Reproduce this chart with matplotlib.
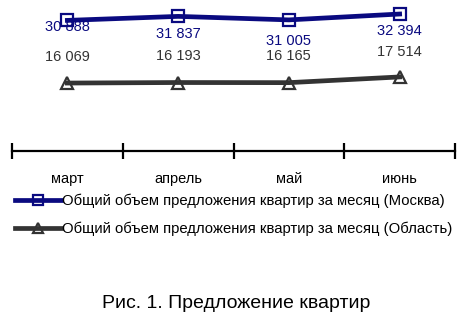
import matplotlib
matplotlib.use("Agg")
from matplotlib import pyplot as plt

months = ["март", "апрель", "май", "июнь"]
moscow = [30888, 31837, 31005, 32394]
oblast = [16069, 16193, 16165, 17514]
label_moscow = "Общий объем предложения квартир за месяц (Москва)"
label_oblast = "Общий объем предложения квартир за месяц (Область)"
caption = "Рис. 1. Предложение квартир"

# label offsets in points (dx, dy)
off_moscow = [(0, -5), (0, -13), (0, -15), (0, -12)]
off_oblast = [(0, 19), (0, 19), (0, 19), (0, 18)]

plt.rcParams['font.family'] = ['Liberation Sans', 'DejaVu Sans']

W, H = 472, 327
fig = plt.figure(figsize=(W / 100, H / 100), dpi=100)
# plot area in pixels: x 12..455, y 3..151 (from top)
ax = fig.add_axes([12 / W, (H - 151) / H, (455 - 12) / W, (151 - 3) / H])

c_msk = "#0a0a80"
c_obl = "#333333"
x = range(len(months))
ax.plot(x, moscow, color=c_msk, lw=3.4, marker='s', ms=8.5, mfc='none',
        mec=c_msk, mew=1.6, label=label_moscow, clip_on=False, zorder=3)
ax.plot(x, oblast, color=c_obl, lw=3.4, marker='^', ms=9, mfc='none',
        mec=c_obl, mew=1.6, label=label_oblast, clip_on=False, zorder=3)

for i, v in enumerate(moscow):
    ax.annotate("{:,}".format(v).replace(",", " "), (i, v), xytext=off_moscow[i],
                textcoords='offset points', ha='center', va='center',
                fontsize=10.5, color=c_msk)
for i, v in enumerate(oblast):
    ax.annotate("{:,}".format(v).replace(",", " "), (i, v), xytext=off_oblast[i],
                textcoords='offset points', ha='center', va='center',
                fontsize=10.5, color=c_obl)

ax.set_xlim(-0.5, len(months) - 0.5)
ax.set_ylim(0, 35000)
for s in ['top', 'left', 'right']:
    ax.spines[s].set_visible(False)
ax.spines['bottom'].set_linewidth(1.6)
ax.set_yticks([])
ax.set_xticks([i - 0.5 for i in range(len(months) + 1)])
ax.set_xticklabels([])
ax.tick_params(axis='x', which='major', direction='inout', length=12, width=1.6)
ax.set_xticks(list(x), minor=True)
ax.set_xticklabels(months, minor=True, fontsize=10.5)
ax.tick_params(axis='x', which='minor', length=0, pad=15)
ax.patch.set_alpha(0)

fig.legend(loc='upper left', bbox_to_anchor=(15 / W, 1 - 194 / H), frameon=False,
           fontsize=10.7, handlelength=3.1, handletextpad=0.05, labelspacing=0.9,
           borderpad=0, borderaxespad=0, markerscale=0.85)

fig.text(0.5, 1 - 303 / H, caption, ha='center', va='center', fontsize=14)

fig.savefig("out.png", dpi=100)
